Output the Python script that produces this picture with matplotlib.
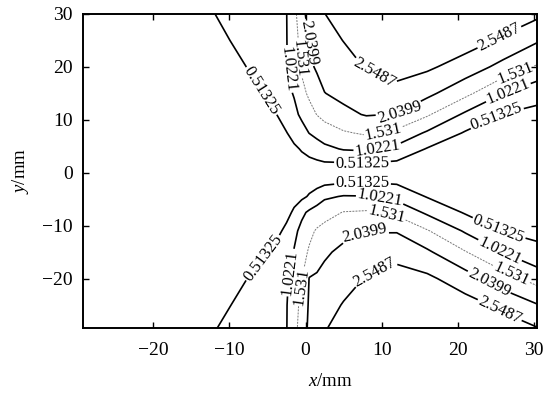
import numpy as np
import matplotlib
matplotlib.use("Agg")
import matplotlib.pyplot as plt

plt.rcParams['font.family'] = ['Liberation Serif', 'DejaVu Serif']
plt.rcParams['mathtext.fontset'] = 'custom'
plt.rcParams['mathtext.rm'] = 'Liberation Serif'
plt.rcParams['mathtext.it'] = 'Liberation Serif:italic'

# grid nodes (mm)
x_nodes = [-30, -20, -12, -7, -4, -2.5, -1.5, -0.5, 0.5, 1.5, 2.5, 5, 8, 12, 16, 21, 26, 30.5]
y_nodes = [-30, -25, -20, -15, -11, -7.5, -4.5, -2, 0, 2, 4.5, 7.5, 11, 15, 20, 25, 30]

# field values, one row per y node (bottom to top)
row_m30 = [0.05, 0.19, 0.507, 0.766, 0.926, 1.006, 1.346, 1.809, 2.138, 2.334, 2.531, 2.83, 2.93, 2.94, 2.93, 2.92, 2.84, 2.64]
row_m25 = [0.05, 0.12, 0.37, 0.694, 0.899, 1.002, 1.271, 1.709, 2.103, 2.230, 2.356, 2.58, 2.87, 2.88, 2.84, 2.75, 2.434, 2.065]
row_m20 = [0.05, 0.08, 0.20, 0.562, 0.835, 0.972, 1.177, 1.52, 2.06, 2.12, 2.180, 2.362, 2.58, 2.74, 2.65, 2.275, 1.747, 1.330]
row_m15 = [0.05, 0.07, 0.10, 0.26, 0.654, 0.883, 1.051, 1.341, 1.594, 1.769, 1.968, 2.150, 2.270, 2.385, 2.121, 1.561, 1.007, 0.609]
row_m11 = [0.05, 0.06, 0.08, 0.14, 0.32, 0.65, 0.90, 1.16, 1.41, 1.586, 1.682, 1.900, 2.016, 2.007, 1.573, 0.965, 0.489, 0.418]
row_m7 = [0.05, 0.06, 0.08, 0.12, 0.20, 0.34, 0.606, 0.916, 1.107, 1.237, 1.357, 1.551, 1.592, 1.414, 0.937, 0.467, 0.372, 0.317]
row_m4 = [0.05, 0.06, 0.08, 0.12, 0.18, 0.24, 0.31, 0.408, 0.564, 0.75, 0.937, 1.056, 1.042, 0.863, 0.484, 0.340, 0.271, 0.230]
row_m2 = [0.05, 0.06, 0.08, 0.13, 0.20, 0.25, 0.29, 0.32, 0.34, 0.36, 0.442, 0.515, 0.533, 0.483, 0.337, 0.234, 0.187, 0.158]
row_0 = [0.05, 0.06, 0.08, 0.12, 0.18, 0.23, 0.26, 0.29, 0.30, 0.30, 0.30, 0.30, 0.30, 0.28, 0.22, 0.15, 0.12, 0.10]
row_p2 = [0.05, 0.06, 0.08, 0.13, 0.21, 0.28, 0.33, 0.38, 0.42, 0.46, 0.508, 0.524, 0.552, 0.474, 0.337, 0.234, 0.188, 0.158]
row_p4 = [0.05, 0.06, 0.08, 0.13, 0.22, 0.33, 0.434, 0.550, 0.666, 0.781, 0.897, 1.063, 1.101, 0.895, 0.484, 0.340, 0.272, 0.231]
row_p7 = [0.05, 0.06, 0.08, 0.12, 0.225, 0.495, 0.675, 0.856, 1.033, 1.167, 1.302, 1.476, 1.599, 1.400, 0.952, 0.467, 0.374, 0.318]
row_p11 = [0.05, 0.06, 0.09, 0.15, 0.476, 0.739, 0.914, 1.107, 1.330, 1.545, 1.680, 1.925, 2.074, 2.022, 1.597, 0.934, 0.493, 0.420]
row_p15 = [0.05, 0.07, 0.12, 0.337, 0.711, 0.905, 1.054, 1.372, 1.631, 1.832, 2.031, 2.162, 2.297, 2.388, 2.165, 1.670, 1.025, 0.633]
row_p20 = [0.05, 0.08, 0.17, 0.578, 0.855, 0.994, 1.269, 1.615, 1.937, 2.106, 2.204, 2.360, 2.58, 2.74, 2.63, 2.334, 1.880, 1.474]
row_p25 = [0.05, 0.12, 0.381, 0.702, 0.904, 1.005, 1.311, 1.713, 2.074, 2.223, 2.372, 2.56, 2.85, 2.88, 2.83, 2.77, 2.472, 2.091]
row_p30 = [0.05, 0.19, 0.508, 0.773, 0.932, 1.011, 1.361, 1.913, 2.183, 2.361, 2.539, 2.81, 2.93, 2.94, 2.93, 2.92, 2.85, 2.66]

levels = [0.51325, 1.0221, 1.531, 2.0399, 2.5487]
level_text = ['0.51325', '1.0221', '1.531', '2.0399', '2.5487']

Z = np.array([row_m30, row_m25, row_m20, row_m15, row_m11, row_m7, row_m4, row_m2, row_0,
              row_p2, row_p4, row_p7, row_p11, row_p15, row_p20, row_p25, row_p30])

fig = plt.figure(figsize=(5.55, 3.97), dpi=100)
ax = fig.add_axes([0.149, 0.173, 0.818, 0.792])

line_colors = ['black', 'black', '#777777', 'black', 'black']
line_widths = [1.2, 1.2, 0.7, 1.2, 1.2]
line_styles = ['solid', 'solid', (0, (2, 1.2)), 'solid', 'solid']
cs = ax.contour(x_nodes, y_nodes, Z, levels=levels, colors=line_colors,
                linewidths=line_widths, linestyles=line_styles)

label_spots = [(-5.6, 15.6), (7.5, 1.9), (25.0, 11.0),
               (-2.6, 19.5), (9.5, 4.2), (26.5, 15.8),
               (-1.2, 21.5), (10.3, 7.4), (27.6, 18.9),
               (-0.1, 24.5), (12.5, 11.0),
               (8.9, 18.4), (25.6, 25.3),
               (-5.6, -16.1), (7.5, -1.9), (25.2, -11.3),
               (-2.3, -18.8), (9.8, -4.7), (25.6, -14.6),
               (-0.5, -21.5), (10.7, -7.5), (26.9, -19.5),
               (7.8, -11.4), (24.3, -20.3),
               (9.0, -18.6), (25.6, -25.8)]
fmt = dict(zip(levels, level_text))
ax.clabel(cs, levels=levels, fmt=fmt, manual=label_spots, inline=True,
          inline_spacing=1, fontsize=12, colors='k')

ax.set_xlim(-29.3, 30.4)
ax.set_ylim(-29.4, 30)
ax.set_xticks([-20, -10, 0, 10, 20, 30])
ax.set_yticks([-20, -10, 0, 10, 20, 30])
ax.tick_params(direction='in', top=True, right=True, length=4, width=1,
               labelsize=14, pad=7)
ax.tick_params(axis='x', pad=10)
for s in ax.spines.values():
    s.set_linewidth(1.4)

ax.set_xlabel('$x$/mm', fontsize=13.5)
ax.xaxis.set_label_coords(0.546, -0.142)
ax.set_ylabel('$y$/mm', fontsize=13.5, labelpad=8)

fig.savefig('out.png', dpi=100)
